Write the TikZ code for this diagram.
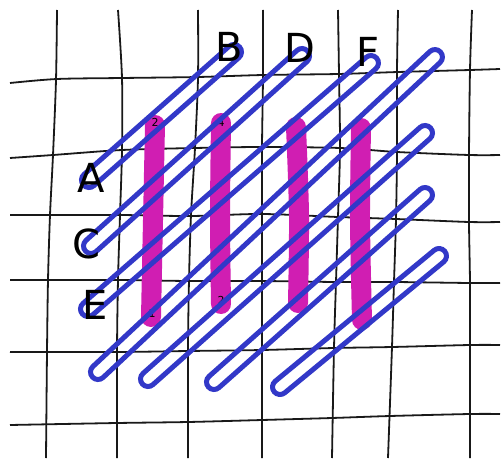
\documentclass[tikz,border=0pt]{standalone}
\usepackage{fontspec}
\setmainfont{DejaVu Sans}
\usepackage{xcolor}
\usepackage{tikz}
\usetikzlibrary{calc}
\definecolor{stitchblue}{RGB}{50, 56, 200}
\definecolor{stitchpink}{RGB}{208, 30, 178}
\newcommand{\stitchloop}[2]{%
\draw[stitch] let \p1=($(#2)-(#1)$), \n1={veclen(\x1,\y1)}, \n2={atan2(\y1,\x1)} in
($(#1)+(\n2-90:7.5pt)$) -- ++(\n2:\n1) arc[start angle=\n2-90, end angle=\n2+90, radius=7.5pt]
-- ++(\n2+180:\n1) arc[start angle=\n2+90, end angle=\n2+270, radius=7.5pt] -- cycle;}
\tikzset{
grid/.style={line width=1.8pt, black!90},
bar/.style={line width=20pt, stitchpink, line cap=round},
stitch/.style={line width=5pt, stitchblue},
letter/.style={font=\fontsize{40}{40}\selectfont},
num/.style={font=\fontsize{11}{11}\selectfont, black}
}
\begin{document}
\begin{tikzpicture}[x=1pt, y=-1pt]
\useasboundingbox (0,0) rectangle (501,460);
\draw[grid] plot[smooth] coordinates {(57,10) (56,80) (53,155) (50,215) (48,280) (47,352) (46,458)};
\draw[grid] plot[smooth] coordinates {(118,10) (122,78) (122,150) (120,215) (118,280) (117,352) (117,458)};
\draw[grid] plot[smooth] coordinates {(198,10) (198,78) (195,148) (191,215) (189,280) (188,350) (188,458)};
\draw[grid] plot[smooth] coordinates {(263,10) (263,76) (262,147) (262,214) (262,281) (262,350) (262,458)};
\draw[grid] plot[smooth] coordinates {(338,10) (339,74) (340,148) (338,217) (336,282) (334,348) (332,458)};
\draw[grid] plot[smooth] coordinates {(398,10) (397,72) (397,152) (396,219) (394,282) (392,347) (388,458)};
\draw[grid] plot[smooth] coordinates {(472,10) (470,70) (469,155) (469,222) (470,283) (470,345) (470,458)};
\draw[grid] plot[smooth] coordinates {(10,83) (57,79) (122,78) (198,77) (263,75) (338,74) (398,72) (470,70) (500,69)};
\draw[grid] plot[smooth] coordinates {(10,158) (53,155) (122,150) (195,148) (262,147) (340,148) (397,152) (469,155) (500,155)};
\draw[grid] plot[smooth] coordinates {(10,215) (50,215) (120,215) (191,216) (262,214) (338,217) (396,219) (469,222) (500,222)};
\draw[grid] plot[smooth] coordinates {(10,280) (48,280) (118,280) (189,281) (262,281) (336,282) (394,282) (470,283) (500,283)};
\draw[grid] plot[smooth] coordinates {(10,352) (117,352) (188,351) (262,350) (334,348) (392,347) (470,345) (500,345)};
\draw[grid] plot[smooth] coordinates {(10,425) (117,423) (188,422) (262,420) (332,418) (390,416) (470,414) (500,414)};
\draw[bar] plot[smooth] coordinates {(155,125) (153,220) (151,317)};
\draw[bar] plot[smooth] coordinates {(221,123) (220,215) (221,304)};
\draw[bar] plot[smooth] coordinates {(296,127) (299,215) (298,303)};
\draw[bar] plot[smooth] coordinates {(361,128) (360,220) (362,320)};
\node[num] (n2a) at (155,122) {2};
\node[num] (n4) at (221,122) {4};
\node[num] (n1) at (152,313) {1};
\node[num] (n2b) at (221,300) {2};
\coordinate (ab0) at (89,180);
\coordinate (ab1) at (234,52);
\coordinate (cd0) at (91,246);
\coordinate (cd1) at (302,56);
\coordinate (ef0) at (88,309);
\coordinate (ef1) at (371,63);
\coordinate (g0) at (98,372);
\coordinate (g1) at (435,57);
\coordinate (h0) at (148,379);
\coordinate (h1) at (425,133);
\coordinate (i0) at (214,382);
\coordinate (i1) at (425,195);
\coordinate (j0) at (280,387);
\coordinate (j1) at (439,256);
\stitchloop{ab0}{ab1}
\stitchloop{cd0}{cd1}
\stitchloop{ef0}{ef1}
\stitchloop{g0}{g1}
\stitchloop{h0}{h1}
\stitchloop{i0}{i1}
\stitchloop{j0}{j1}
\node[letter] (lA) at (91,178) {A};
\node[letter] (lB) at (229,47) {B};
\node[letter] (lC) at (86,244) {C};
\node[letter] (lD) at (300,48) {D};
\node[letter] (lE) at (95,305) {E};
\node[letter] (lF) at (368,52) {F};
\end{tikzpicture}
\end{document}
